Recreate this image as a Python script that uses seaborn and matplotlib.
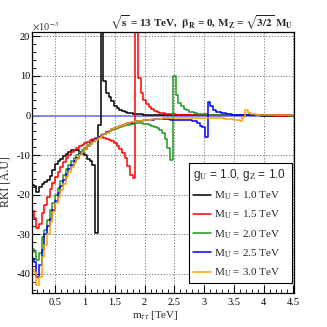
import numpy as np
import pandas as pd
import matplotlib
matplotlib.use("Agg")
import matplotlib.pyplot as plt
import seaborn as sns
from matplotlib.ticker import MultipleLocator, FuncFormatter

# ---------------- data (values in units of 1e-3) ----------------
bin_width = 0.045
first_edge = 0.09

rki_mu10 = [
    -17.5, -17.8, -19.2, -18.0, -17.3, -16.7, -16.3, -15.2, -13.8, -12.3,
    -11.6, -10.9, -10.3, -9.6, -9.2, -8.8, -8.7, -8.8, -9.2, -9.5,
    -10.0, -11.0, -11.6, -12.5, -29.6, -2.4, 45.0, 8.6, 5.7, 4.8,
    3.6, 2.4, 1.8, 1.5, 1.1, 0.9, 0.7, 0.6, 0.5, 0.4,
    0.35, 0.3, 0.25, 0.2, 0.2, 0.15, 0.15, 0.1, 0.1, 0.1,
    0.1, 0.1, 0.08, 0.08, 0.08, 0.07, 0.07, 0.07, 0.06, 0.06,
    0.06, 0.05, 0.05, 0.05, 0.05, 0.05, 0.04, 0.04, 0.04, 0.04,
    0.04, 0.03, 0.03, 0.03, 0.03, 0.03, 0.03, 0.02, 0.02, 0.02,
    0.02, 0.02, 0.02, 0.02, 0.02, 0.02, 0.01, 0.01, 0.01, 0.01,
    0.01, 0.01, 0.01, 0.01, 0.01, 0.01, 0.01, 0.01,
]
rki_mu15 = [
    -24.0, -25.8, -28.3, -27.3, -24.7, -22.6, -20.5, -18.6, -17.0, -15.5,
    -14.2, -13.0, -11.8, -10.8, -10.0, -9.3, -8.7, -8.3, -7.8, -7.4,
    -7.0, -6.6, -6.2, -5.9, -5.7, -5.5, -5.5, -5.6, -5.8, -6.1,
    -6.5, -7.0, -7.6, -8.4, -9.4, -10.8, -12.8, -15.0, -15.7, 45.0,
    9.5, 5.6, 3.8, 2.8, 2.1, 1.6, 1.2, 0.9, 0.7, 0.6,
    0.5, 0.4, 0.35, 0.3, 0.25, 0.2, 0.2, 0.15, 0.15, 0.1,
    0.1, 0.1, 0.1, 0.08, 0.08, 0.08, 0.07, 0.07, 0.06, 0.06,
    0.06, 0.05, 0.05, 0.05, 0.05, 0.04, 0.04, 0.04, 0.04, 0.03,
    0.03, 0.03, 0.03, 0.03, 0.02, 0.02, 0.02, 0.02, 0.02, 0.02,
    0.02, 0.01, 0.01, 0.01, 0.01, 0.01, 0.01, 0.01,
]
rki_mu20 = [
    -33.6, -34.5, -36.5, -34.8, -30.6, -28.9, -26.4, -23.9, -22.2, -20.0,
    -18.3, -16.5, -15.0, -13.6, -12.5, -11.5, -10.7, -10.0, -9.3, -8.7,
    -8.1, -7.5, -7.0, -6.5, -6.0, -5.5, -5.1, -4.7, -4.3, -4.0,
    -3.7, -3.4, -3.1, -2.9, -2.7, -2.5, -2.3, -2.2, -2.1, -2.0,
    -2.0, -2.0, -2.1, -2.2, -2.4, -2.6, -2.9, -3.2, -3.7, -4.4,
    -5.8, -8.3, -11.3, 9.9, 5.2, 3.1, 2.3, 1.6, 1.3, 1.0,
    0.8, 0.6, 0.5, 0.4, 0.35, 0.3, 0.25, 0.2, 0.2, 0.15,
    0.15, 0.1, 0.1, 0.1, 0.08, 0.08, 0.07, 0.07, 0.06, 0.06,
    0.05, 0.05, 0.05, 0.04, 0.04, 0.04, 0.03, 0.03, 0.03, 0.03,
    0.02, 0.02, 0.02, 0.02, 0.02, 0.02, 0.01, 0.01,
]
rki_mu25 = [
    -36.1, -37.0, -40.8, -37.8, -34.0, -29.8, -28.0, -26.0, -23.8, -21.5,
    -19.6, -17.8, -16.2, -14.8, -13.5, -12.4, -11.4, -10.6, -9.8, -9.1,
    -8.4, -7.7, -7.1, -6.5, -6.0, -5.5, -5.0, -4.6, -4.2, -3.8,
    -3.5, -3.2, -2.9, -2.6, -2.4, -2.2, -2.0, -1.8, -1.7, -1.5,
    -1.4, -1.3, -1.2, -1.1, -1.0, -1.0, -0.9, -0.9, -0.9, -0.9,
    -0.9, -0.9, -1.0, -1.0, -1.0, -1.1, -1.1, -1.2, -1.2, -1.2,
    -1.3, -1.5, -1.8, -2.6, -2.8, -5.3, 3.3, 2.4, 1.4, 1.0,
    0.9, 0.7, 0.6, 0.4, 0.3, 0.25, 0.2, 0.2, 0.15, 0.15,
    0.1, 0.1, 0.1, 0.08, 0.08, 0.07, 0.07, 0.06, 0.06, 0.05,
    0.05, 0.05, 0.04, 0.04, 0.04, 0.03, 0.03, 0.03,
]
rki_mu30 = [
    -39.1, -39.5, -42.9, -40.8, -35.7, -32.7, -29.8, -26.8, -24.3, -22.0,
    -20.5, -18.8, -17.2, -15.6, -14.2, -13.0, -11.9, -10.9, -10.0, -9.2,
    -8.5, -7.8, -7.2, -6.6, -6.1, -5.6, -5.1, -4.7, -4.3, -3.9,
    -3.5, -3.2, -2.9, -2.6, -2.3, -2.1, -1.9, -1.7, -1.6, -1.5,
    -1.4, -1.3, -1.2, -1.1, -1.0, -0.9, -0.9, -0.8, -0.8, -0.7,
    -0.7, -0.7, -0.6, -0.6, -0.6, -0.6, -0.6, -0.6, -0.6, -0.6,
    -0.6, -0.6, -0.6, -0.6, -0.6, -0.6, -0.6, -0.7, -0.7, -0.7,
    -0.7, -0.7, -0.8, -0.8, -0.9, -0.9, -1.0, -1.2, -1.5, -0.3,
    1.4, 0.7, 0.5, 0.3, 0.25, 0.2, 0.15, 0.15, 0.1, 0.1,
    0.1, 0.1, 0.05, 0.05, 0.05, 0.05, 0.05, 0.05,
]

series_labels = ["M$_{\\rm U}$ = 1.0 TeV", "M$_{\\rm U}$ = 1.5 TeV",
                 "M$_{\\rm U}$ = 2.0 TeV", "M$_{\\rm U}$ = 2.5 TeV",
                 "M$_{\\rm U}$ = 3.0 TeV"]
series_values = [rki_mu10, rki_mu15, rki_mu20, rki_mu25, rki_mu30]
series_colors = ["#000000", "#ff0000", "#1a9a1a", "#0000ff", "#ffa000"]

# ---------------- build long table (step histograms) ----------------
rows = []
for lab, vals in zip(series_labels, series_values):
    n = len(vals)
    edges = first_edge + bin_width * np.arange(n + 1)
    yv = list(vals) + [vals[-1]]
    for xe, yy in zip(edges, yv):
        rows.append({"mtt": xe, "rki": yy, "series": lab})
df = pd.DataFrame(rows)

# ---------------- style ----------------
sns.set_theme(style="ticks")
plt.rcParams["font.family"] = ["Liberation Serif", "DejaVu Serif"]
plt.rcParams["mathtext.fontset"] = "stix"
plt.rcParams["axes.unicode_minus"] = False

fig = plt.figure(figsize=(3.27, 3.27), dpi=100)
ax = fig.add_axes([0.099, 0.104, 0.800, 0.797])

ax.axhline(0, color="#7f7ff5", lw=1.3, zorder=1.5)

sns.lineplot(data=df, x="mtt", y="rki", hue="series", palette=series_colors,
             hue_order=series_labels, drawstyle="steps-post", estimator=None,
             sort=False, linewidth=1.1, legend=False, ax=ax, zorder=2)

ax.set_xlim(0.115, 4.51)
ax.set_ylim(-44.8, 21.0)

ax.xaxis.set_major_locator(MultipleLocator(0.5))
ax.xaxis.set_minor_locator(MultipleLocator(0.1))
ax.yaxis.set_major_locator(MultipleLocator(10))
ax.yaxis.set_minor_locator(MultipleLocator(2))
ax.xaxis.set_major_formatter(FuncFormatter(lambda v, p: "%g" % v))
ax.yaxis.set_major_formatter(FuncFormatter(lambda v, p: "%g" % v))

ax.tick_params(which="major", direction="in", length=5.5, width=0.8,
               labelsize=7.5, colors="black")
ax.tick_params(which="minor", direction="in", length=2.8, width=0.7)
ax.tick_params(axis="y", pad=1.5)
ax.tick_params(axis="x", pad=3.5)

ax.grid(True, which="major", linestyle=(0, (1.2, 1.8)), color="#777777",
        linewidth=0.7)
for sp in ax.spines.values():
    sp.set_color("black")
    sp.set_linewidth(0.9)

ax.set_xlabel(r"m$_{\tau\tau}$ [TeV]", fontsize=8)
ax.set_ylabel("RKI [A.U]", fontsize=8.5)
ax.xaxis.set_label_coords(0.47, -0.062)
ax.yaxis.set_label_coords(-0.080, 0.427)

handles = ax.get_lines()[1:6]
leg = ax.legend(handles, series_labels, loc="upper left",
                bbox_to_anchor=(0.60, 0.037, 0.392, 0.461), mode="expand",
                borderaxespad=0.0,
                fontsize=8, title=r"g$_{\rm U}$ = 1.0, g$_{\rm Z}$ = 1.0",
                title_fontproperties={"family": "Liberation Sans", "size": 8.5},
                frameon=True, fancybox=False, edgecolor="black",
                framealpha=1.0, handlelength=1.6, handletextpad=0.3,
                labelspacing=0.6, borderpad=0.35, alignment="left")
leg.get_frame().set_linewidth(0.8)

fig.text(0.897, 1 - 23 / 327,
         r"$\sqrt{\mathbf{s}}$ = 13 TeV,  $\mathbf{\beta_{R}}$ = 0, "
         r"$\mathbf{M_{Z'}}$= $\sqrt{\mathbf{3/2}}$ $\mathbf{M_{U}}$",
         ha="right", va="center", fontsize=8, fontweight="bold")
fig.text(0.099, 1 - 27 / 327, r"$\times$10$^{-3}$", ha="left", va="center",
         fontsize=7.5, color="#333333")

fig.savefig("out.png", dpi=100)
